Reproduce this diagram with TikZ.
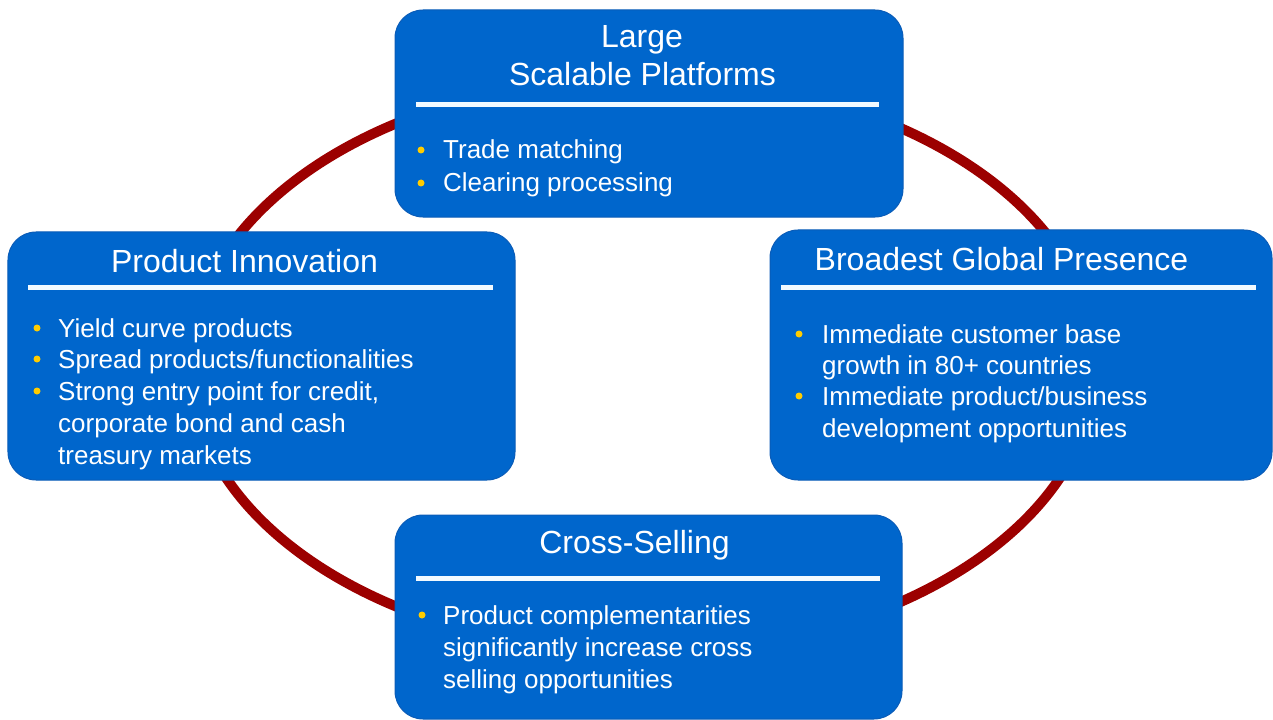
\documentclass[tikz,border=0pt]{standalone}
\usepackage{fontspec}
\setmainfont{Liberation Sans}
\definecolor{boxblue}{HTML}{0066CC}
\definecolor{boxedge}{HTML}{0A5CB8}
\definecolor{ringred}{HTML}{9C0000}
\definecolor{dotyellow}{HTML}{FFCC00}
\definecolor{rulewhite}{HTML}{F2FAFF}
\begin{document}
\begin{tikzpicture}[x=1bp,y=-1bp,
  panel/.style={draw=boxedge, line width=1bp, fill=boxblue, rounded corners=28bp, inner sep=0pt},
  ttl/.style={text=white, font=\fontsize{32bp}{38bp}\selectfont, anchor=base, inner sep=0pt},
  txt/.style={text=white, font=\fontsize{26bp}{32bp}\selectfont, anchor=base west, inner sep=0pt},
  bdot/.style={circle, fill=dotyellow, minimum size=7bp, inner sep=0pt},
  sepline/.style={draw=rulewhite, line width=5bp},
  ring/.style={draw=ringred, line width=10bp}
]
\useasboundingbox (0,0) rectangle (1273,720);

% ring running behind the four panels
\draw[ring] (643,365) ellipse [x radius=453bp, y radius=288bp];

% panels
\node[panel, minimum width=508bp, minimum height=207bp] (ptop) at (649,113.5) {};
\node[panel, minimum width=507bp, minimum height=248bp] (pleft) at (261.5,356) {};
\node[panel, minimum width=502bp, minimum height=250bp] (pright) at (1021,355) {};
\node[panel, minimum width=507bp, minimum height=204bp] (pbot) at (648.5,617) {};

% separator rules
\coordinate (rt1) at (416,105);  \coordinate (rt2) at (879,105);
\coordinate (rl1) at (28,287);   \coordinate (rl2) at (493,287);
\coordinate (rr1) at (781,287);  \coordinate (rr2) at (1256,287);
\coordinate (rb1) at (416,578);  \coordinate (rb2) at (880,578);
\draw[sepline] (rt1) -- (rt2);
\draw[sepline] (rl1) -- (rl2);
\draw[sepline] (rr1) -- (rr2);
\draw[sepline] (rb1) -- (rb2);

% top panel
\node[ttl] (tt1) at (642,48) {Large};
\node[ttl] (tt2) at (642.5,86) {Scalable Platforms};
\node[bdot] (tb1) at (421,150) {};
\node[txt] (tx1) at (443,159) {Trade matching};
\node[bdot] (tb2) at (421,183) {};
\node[txt] (tx2) at (443,192) {Clearing processing};

% left panel
\node[ttl] (lt) at (244.5,272) {Product Innovation};
\node[bdot] (lb1) at (37,328) {};
\node[txt] (lx1) at (58,337) {Yield curve products};
\node[bdot] (lb2) at (37,359) {};
\node[txt] (lx2) at (58,368) {Spread products/functionalities};
\node[bdot] (lb3) at (37,391) {};
\node[txt] (lx3) at (58,400) {Strong entry point for credit,};
\node[txt] (lx4) at (58,432) {corporate bond and cash};
\node[txt] (lx5) at (58,464) {treasury markets};

% right panel
\node[ttl] (rt) at (1001.5,270) {Broadest Global Presence};
\node[bdot] (rb1d) at (799,334) {};
\node[txt] (rx1) at (822,343) {Immediate customer base};
\node[txt] (rx2) at (822,374) {growth in 80+ countries};
\node[bdot] (rb2d) at (799,396) {};
\node[txt] (rx3) at (822,405) {Immediate product/business};
\node[txt] (rx4) at (822,437) {development opportunities};

% bottom panel
\node[ttl] (bt) at (634.5,553) {Cross-Selling};
\node[bdot] (bb1) at (422,615) {};
\node[txt] (bx1) at (443,624) {Product complementarities};
\node[txt] (bx2) at (443,656) {significantly increase cross};
\node[txt] (bx3) at (443,688) {selling opportunities};
\end{tikzpicture}
\end{document}
